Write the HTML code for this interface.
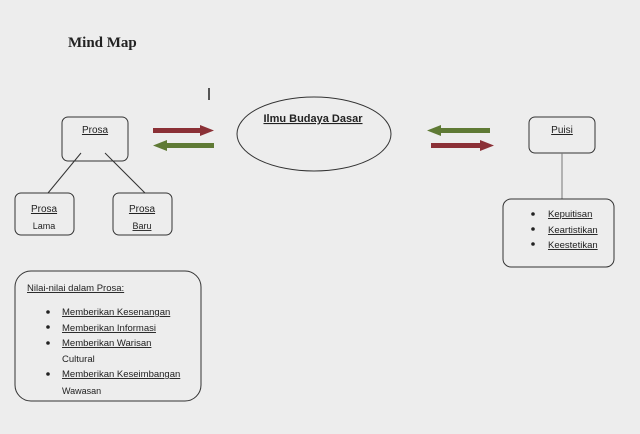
<!DOCTYPE html>
<html><head><style>
html,body{margin:0;padding:0;background:#ededed;}
svg{display:block;}
text{font-family:"Liberation Sans",sans-serif;fill:#222;}
.u{text-decoration:underline;text-decoration-style:wavy;text-decoration-color:#c33;}
</style></head><body>
<svg width="640" height="434" viewBox="0 0 640 434" xmlns="http://www.w3.org/2000/svg">
<rect width="640" height="434" fill="#ededed"/>
<text x="68" y="47" font-family="Liberation Serif" font-weight="bold" font-size="15" style="font-family:'Liberation Serif',serif">Mind Map</text>
<line x1="209" y1="88" x2="209" y2="100" stroke="#222" stroke-width="1.5"/>
<g fill="none" stroke="#333" stroke-width="1">
<rect x="62" y="144" width="66" height="44" rx="6" transform="translate(0,-27)"/>
<line x1="81" y1="153" x2="48" y2="193"/>
<line x1="105" y1="153" x2="145" y2="193"/>
<rect x="15" y="193" width="59" height="42" rx="6"/>
<rect x="113" y="193" width="59" height="42" rx="6"/>
<ellipse cx="314" cy="134" rx="77" ry="37"/>
<rect x="529" y="117" width="66" height="36" rx="6"/>
<line x1="562" y1="153" x2="562" y2="199" stroke="#777"/>
<rect x="503" y="199" width="111" height="68" rx="8"/>
<rect x="15" y="271" width="186" height="130" rx="16"/>
</g>
<!-- arrows -->
<g>
<rect x="153" y="128" width="48" height="5" fill="#8b3036"/><polygon points="200,125 214,130.5 200,136" fill="#8b3036"/>
<rect x="166" y="143" width="48" height="5" fill="#5f7a35"/><polygon points="167,140 153,145.5 167,151" fill="#5f7a35"/>
<rect x="440" y="128" width="50" height="5" fill="#5f7a35"/><polygon points="441,125 427,130.5 441,136" fill="#5f7a35"/>
<rect x="431" y="143" width="50" height="5" fill="#8b3036"/><polygon points="480,140 494,145.5 480,151" fill="#8b3036"/>
</g>
<g font-size="10">
<text x="313" y="149" font-size="11" font-weight="bold" text-anchor="middle" transform="translate(0,-27)" class="u">Ilmu Budaya Dasar</text>
<text x="95" y="163" text-anchor="middle" transform="translate(0,-30)" class="u">Prosa</text>
<text x="562" y="133" text-anchor="middle" class="u">Puisi</text>
<text x="44" y="212" text-anchor="middle" class="u">Prosa</text>
<text x="44" y="229" text-anchor="middle" font-size="9">Lama</text>
<text x="142" y="212" text-anchor="middle" class="u">Prosa</text>
<text x="142" y="229" text-anchor="middle" font-size="9" class="u">Baru</text>
<text x="27" y="291" font-size="9.5" class="u">Nilai-nilai dalam Prosa:</text>
<g font-size="9.5">
<circle cx="48" cy="312" r="1.8" fill="#222"/><text x="62" y="315" class="u">Memberikan Kesenangan</text>
<circle cx="48" cy="327" r="1.8" fill="#222"/><text x="62" y="331" class="u">Memberikan Informasi</text>
<circle cx="48" cy="343" r="1.8" fill="#222"/><text x="62" y="346" class="u">Memberikan Warisan</text>
<text x="62" y="362">Cultural</text>
<circle cx="48" cy="374" r="1.8" fill="#222"/><text x="62" y="377" class="u">Memberikan Keseimbangan</text>
<text x="62" y="394" font-size="9">Wawasan</text>
<circle cx="533" cy="214" r="1.8" fill="#222"/><text x="548" y="217" class="u">Kepuitisan</text>
<circle cx="533" cy="229" r="1.8" fill="#222"/><text x="548" y="233" class="u">Keartistikan</text>
<circle cx="533" cy="244" r="1.8" fill="#222"/><text x="548" y="248" class="u">Keestetikan</text>
</g>
</g>
</svg>
</body></html>
